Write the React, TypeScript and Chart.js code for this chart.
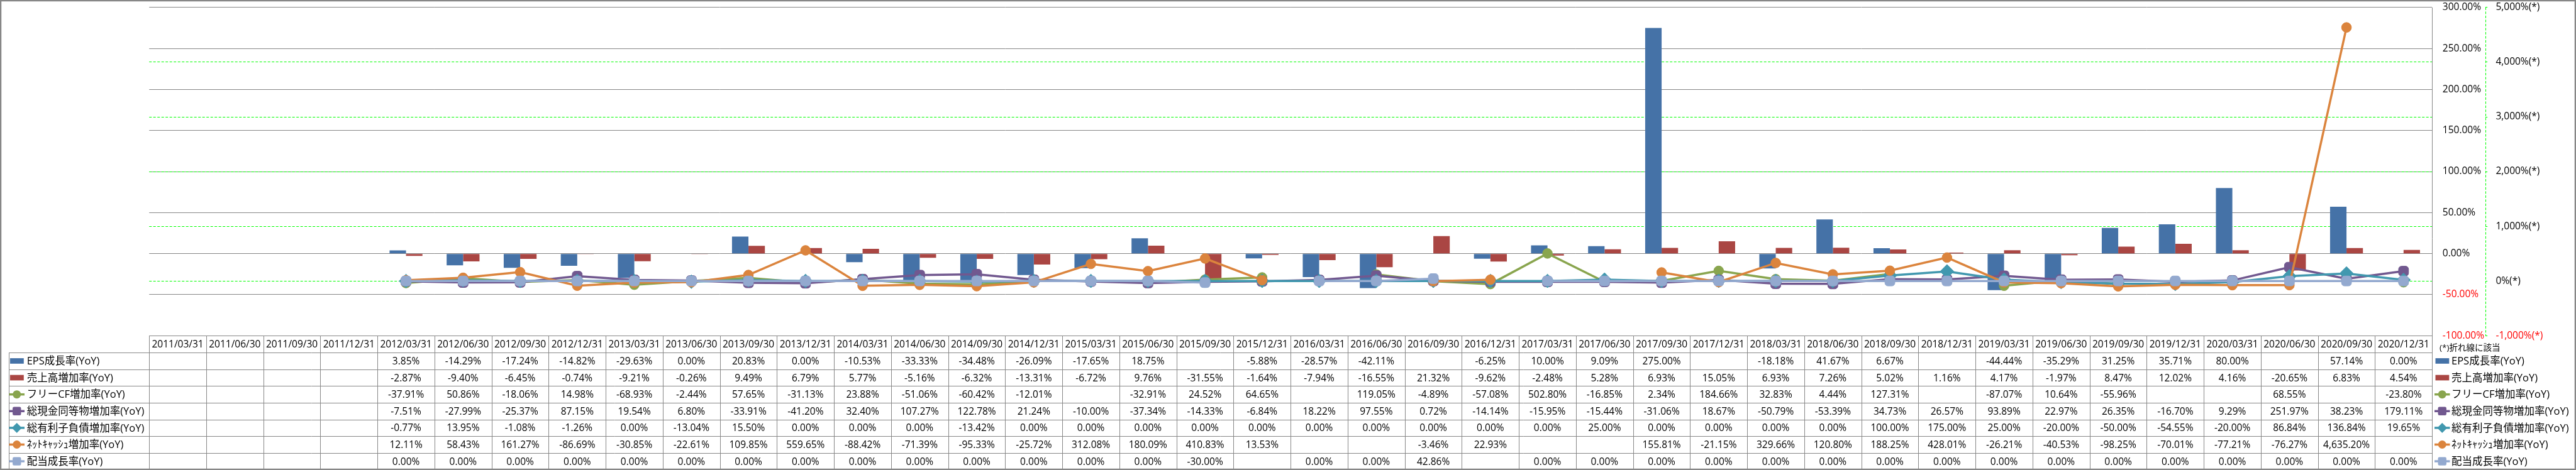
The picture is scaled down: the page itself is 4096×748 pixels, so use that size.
import React, { useEffect, useRef } from 'react';
import { Chart, registerables } from 'chart.js';

Chart.register(...registerables);

const categories = [
  '2011/03/31', '2011/06/30', '2011/09/30', '2011/12/31',
  '2012/03/31', '2012/06/30', '2012/09/30', '2012/12/31',
  '2013/03/31', '2013/06/30', '2013/09/30', '2013/12/31',
  '2014/03/31', '2014/06/30', '2014/09/30', '2014/12/31',
  '2015/03/31', '2015/06/30', '2015/09/30', '2015/12/31',
  '2016/03/31', '2016/06/30', '2016/09/30', '2016/12/31',
  '2017/03/31', '2017/06/30', '2017/09/30', '2017/12/31',
  '2018/03/31', '2018/06/30', '2018/09/30', '2018/12/31',
  '2019/03/31', '2019/06/30', '2019/09/30', '2019/12/31',
  '2020/03/31', '2020/06/30', '2020/09/30', '2020/12/31',
];

const epsGrowth = [
  null, null, null, null,
  3.85, -14.29, -17.24, -14.82,
  -29.63, 0.0, 20.83, 0.0,
  -10.53, -33.33, -34.48, -26.09,
  -17.65, 18.75, null, -5.88,
  -28.57, -42.11, null, -6.25,
  10.0, 9.09, 275.0, null,
  -18.18, 41.67, 6.67, null,
  -44.44, -35.29, 31.25, 35.71,
  80.0, null, 57.14, 0.0,
];

const salesGrowth = [
  null, null, null, null,
  -2.87, -9.4, -6.45, -0.74,
  -9.21, -0.26, 9.49, 6.79,
  5.77, -5.16, -6.32, -13.31,
  -6.72, 9.76, -31.55, -1.64,
  -7.94, -16.55, 21.32, -9.62,
  -2.48, 5.28, 6.93, 15.05,
  6.93, 7.26, 5.02, 1.16,
  4.17, -1.97, 8.47, 12.02,
  4.16, -20.65, 6.83, 4.54,
];

const fcfGrowth = [
  null, null, null, null,
  -37.91, 50.86, -18.06, 14.98,
  -68.93, -2.44, 57.65, -31.13,
  23.88, -51.06, -60.42, -12.01,
  null, -32.91, 24.52, 64.65,
  null, 119.05, -4.89, -57.08,
  502.8, -16.85, 2.34, 184.66,
  32.83, 4.44, 127.31, null,
  -87.07, 10.64, -55.96, null,
  null, 68.55, null, -23.8,
];

const cashGrowth = [
  null, null, null, null,
  -7.51, -27.99, -25.37, 87.15,
  19.54, 6.8, -33.91, -41.2,
  32.4, 107.27, 122.78, 21.24,
  -10.0, -37.34, -14.33, -6.84,
  18.22, 97.55, 0.72, -14.14,
  -15.95, -15.44, -31.06, 18.67,
  -50.79, -53.39, 34.73, 26.57,
  93.89, 22.97, 26.35, -16.7,
  9.29, 251.97, 38.23, 179.11,
];

const debtGrowth = [
  null, null, null, null,
  -0.77, 13.95, -1.08, -1.26,
  0.0, -13.04, 15.5, 0.0,
  0.0, 0.0, -13.42, 0.0,
  0.0, 0.0, 0.0, 0.0,
  0.0, 0.0, 0.0, 0.0,
  0.0, 25.0, 0.0, 0.0,
  0.0, 0.0, 100.0, 175.0,
  25.0, -20.0, -50.0, -54.55,
  -20.0, 86.84, 136.84, 19.65,
];

const netCashGrowth = [
  null, null, null, null,
  12.11, 58.43, 161.27, -86.69,
  -30.85, -22.61, 109.85, 559.65,
  -88.42, -71.39, -95.33, -25.72,
  312.08, 180.09, 410.83, 13.53,
  null, null, -3.46, 22.93,
  null, null, 155.81, -21.15,
  329.66, 120.8, 188.25, 428.01,
  -26.21, -40.53, -98.25, -70.01,
  -77.21, -76.27, 4635.2, null,
];

const dividendGrowth = [
  null, null, null, null,
  0.0, 0.0, 0.0, 0.0,
  0.0, 0.0, 0.0, 0.0,
  0.0, 0.0, 0.0, 0.0,
  0.0, 0.0, -30.0, null,
  0.0, 0.0, 42.86, null,
  0.0, 0.0, 0.0, 0.0,
  0.0, 0.0, 0.0, 0.0,
  0.0, 0.0, 0.0, 0.0,
  0.0, 0.0, 0.0, 0.0,
];

const seriesNames = [
  'EPS成長率(YoY)',
  '売上高増加率(YoY)',
  'フリーCF増加率(YoY)',
  '総現金同等物増加率(YoY)',
  '総有利子負債増加率(YoY)',
  'ﾈｯﾄｷｬｯｼｭ増加率(YoY)',
  '配当成長率(YoY)',
];

const noteText = '(*)折れ線に該当';

const COLORS = ['#4572A7', '#AA4643', '#89A54E', '#71588F', '#4198AF', '#DB843D', '#93A9CF'];
const KINDS = ['bar', 'bar', 'circle', 'rectRounded', 'rectRot', 'circle', 'rectRounded'];
const GRAY = '#878787';
const GREEN = '#00FF00';
const FONT = '"Open Sans", "Noto Sans CJK JP", sans-serif';

const W = 4096;
const H = 748;

const fmtPct = (v: number | null) =>
  v === null || v === undefined
    ? ''
    : v.toLocaleString('en-US', { minimumFractionDigits: 2, maximumFractionDigits: 2 }) + '%';

function drawMarker(ctx: CanvasRenderingContext2D, kind: string, x: number, y: number, r: number, color: string) {
  ctx.fillStyle = color;
  ctx.beginPath();
  if (kind === 'circle') {
    ctx.arc(x, y, r, 0, Math.PI * 2);
  } else if (kind === 'rectRot') {
    ctx.moveTo(x, y - r);
    ctx.lineTo(x + r, y);
    ctx.lineTo(x, y + r);
    ctx.lineTo(x - r, y);
    ctx.closePath();
  } else {
    const h = r * 0.86;
    const c = r * 0.3;
    ctx.moveTo(x - h + c, y - h);
    ctx.lineTo(x + h - c, y - h);
    ctx.quadraticCurveTo(x + h, y - h, x + h, y - h + c);
    ctx.lineTo(x + h, y + h - c);
    ctx.quadraticCurveTo(x + h, y + h, x + h - c, y + h);
    ctx.lineTo(x - h + c, y + h);
    ctx.quadraticCurveTo(x - h, y + h, x - h, y + h - c);
    ctx.lineTo(x - h, y - h + c);
    ctx.quadraticCurveTo(x - h, y - h, x - h + c, y - h);
    ctx.closePath();
  }
  ctx.fill();
}

function drawKey(ctx: CanvasRenderingContext2D, i: number, x0: number, y: number) {
  const color = COLORS[i];
  const kind = KINDS[i];
  if (kind === 'bar') {
    ctx.fillStyle = color;
    ctx.fillRect(x0 + 1.5, y - 4.4, 21.8, 8.7);
  } else {
    ctx.strokeStyle = color;
    ctx.lineWidth = 3.5;
    ctx.beginPath();
    ctx.moveTo(x0, y);
    ctx.lineTo(x0 + 24.5, y);
    ctx.stroke();
    const r = kind === 'circle' ? 6.5 : kind === 'rectRot' ? 8 : 7.8;
    drawMarker(ctx, kind, x0 + 12.25, y, r, color);
  }
}

const tablePlugin = {
  id: 'excelDataTable',
  afterDraw(chart: any) {
    const ctx: CanvasRenderingContext2D = chart.ctx;
    const xs = chart.scales.x;
    const y2 = chart.scales.y2;
    const ca = chart.chartArea;
    const n = categories.length;
    const colW = xs.getPixelForValue(1) - xs.getPixelForValue(0);
    const top = ca.bottom;
    const headerH = 27;
    const rowH = 26.6;
    const rows = seriesNames.length;
    const bottom = top + headerH + rowH * rows;
    const labelLeft = 14;
    const px = (v: number) => Math.round(v) + 0.5;

    ctx.save();
    // green dashed secondary axis line
    ctx.strokeStyle = GREEN;
    ctx.lineWidth = 1;
    ctx.setLineDash([4, 2.5]);
    ctx.beginPath();
    ctx.moveTo(px(y2.left), y2.top);
    ctx.lineTo(px(y2.left), y2.bottom);
    ctx.stroke();
    ctx.setLineDash([]);

    // table grid
    ctx.strokeStyle = GRAY;
    ctx.lineWidth = 1;
    ctx.beginPath();
    ctx.moveTo(ca.left, px(top));
    ctx.lineTo(ca.right, px(top));
    for (let r = 0; r <= rows; r++) {
      const y = px(top + headerH + r * rowH);
      ctx.moveTo(labelLeft, y);
      ctx.lineTo(ca.right, y);
    }
    for (let i = 0; i < n; i++) {
      const x = px(xs.getPixelForValue(i) - colW / 2);
      ctx.moveTo(x, top);
      ctx.lineTo(x, bottom);
    }
    ctx.moveTo(px(ca.right), ca.top);
    ctx.lineTo(px(ca.right), bottom);
    ctx.moveTo(px(labelLeft), top + headerH);
    ctx.lineTo(px(labelLeft), bottom);
    ctx.stroke();

    // header text
    ctx.fillStyle = '#000';
    ctx.textAlign = 'center';
    ctx.textBaseline = 'middle';
    ctx.font = `15.5px ${FONT}`;
    for (let i = 0; i < n; i++) {
      ctx.fillText(categories[i], xs.getPixelForValue(i), top + headerH / 2 + 1);
    }
    const allSeries = [epsGrowth, salesGrowth, fcfGrowth, cashGrowth, debtGrowth, netCashGrowth, dividendGrowth];
    for (let r = 0; r < rows; r++) {
      const cy = top + headerH + (r + 0.5) * rowH + 1;
      for (let i = 0; i < n; i++) {
        const t = fmtPct(allSeries[r][i] as any);
        if (t) ctx.fillText(t, xs.getPixelForValue(i), cy);
      }
    }
    // row labels with keys
    ctx.textAlign = 'left';
    ctx.font = `16.5px ${FONT}`;
    for (let r = 0; r < rows; r++) {
      const cy = top + headerH + (r + 0.5) * rowH;
      drawKey(ctx, r, labelLeft + 0.5, cy);
      ctx.fillStyle = '#000';
      ctx.fillText(seriesNames[r], 42.7, cy + 1);
    }

    // right legend
    ctx.font = `13.5px ${FONT}`;
    ctx.fillStyle = '#000';
    ctx.fillText(noteText, 3879, top + 19.5);
    ctx.font = `16.5px ${FONT}`;
    for (let r = 0; r < rows; r++) {
      const cy = top + headerH + (r + 0.5) * rowH;
      drawKey(ctx, r, 3871, cy);
      ctx.fillStyle = '#000';
      ctx.fillText(seriesNames[r], 3898, cy + 1);
    }

    // outer border
    ctx.strokeStyle = GRAY;
    ctx.strokeRect(0.5, 0.5, W - 1, H - 1);
    ctx.restore();
  },
};

export default function App() {
  const ref = useRef<HTMLCanvasElement | null>(null);

  useEffect(() => {
    document.body.style.margin = '0';
    const canvas = ref.current;
    if (!canvas) return;
    Chart.defaults.font.family = FONT;
    const lineSet = (i: number, data: (number | null)[], radius: number, order: number) => ({
      type: 'line' as const,
      label: seriesNames[i],
      data,
      yAxisID: 'y2',
      borderColor: COLORS[i],
      backgroundColor: COLORS[i],
      borderWidth: 3.5,
      pointStyle: KINDS[i],
      pointRadius: radius,
      pointBorderWidth: 1,
      pointBorderColor: COLORS[i],
      pointBackgroundColor: COLORS[i],
      tension: 0,
      spanGaps: false,
      order,
    });
    const chart = new Chart(canvas, {
      type: 'bar',
      data: {
        labels: categories,
        datasets: [
          {
            type: 'bar',
            label: seriesNames[0],
            data: epsGrowth,
            yAxisID: 'y',
            backgroundColor: COLORS[0],
            borderWidth: 0,
            categoryPercentage: 0.576,
            barPercentage: 1,
            order: 20,
          },
          {
            type: 'bar',
            label: seriesNames[1],
            data: salesGrowth,
            yAxisID: 'y',
            backgroundColor: COLORS[1],
            borderWidth: 0,
            categoryPercentage: 0.576,
            barPercentage: 1,
            order: 20,
          },
          lineSet(2, fcfGrowth, 7.8, 7),
          lineSet(3, cashGrowth, 9.2, 6),
          lineSet(4, debtGrowth, 10.9, 5),
          lineSet(5, netCashGrowth, 7.8, 4),
          lineSet(6, dividendGrowth, 9.2, 3),
        ] as any,
      },
      options: {
        responsive: false,
        animation: false,
        devicePixelRatio: 1,
        layout: { padding: { left: 237.2, top: 11.6, bottom: 213.8, right: 0 } },
        plugins: { legend: { display: false }, tooltip: { enabled: false } },
        scales: {
          x: { display: false, offset: true },
          y: {
            position: 'right',
            weight: 1,
            min: -100,
            max: 300,
            ticks: {
              stepSize: 50,
              padding: 16.6,
              font: { size: 15.5, family: FONT },
              color: (c: any) => (c.tick && c.tick.value < 0 ? '#FF0000' : '#000000'),
              callback: (v: any) => Number(v).toFixed(2) + '%',
            },
            grid: { color: GRAY, lineWidth: 1, drawTicks: false },
            border: { display: false },
            afterFit: (s: any) => {
              s.width = 84.5;
              s.paddingTop = 0;
              s.paddingBottom = 0;
            },
          },
          y2: {
            position: 'right',
            weight: 2,
            min: -1000,
            max: 5000,
            ticks: {
              stepSize: 1000,
              padding: 13.2,
              font: { size: 15.5, family: FONT },
              color: (c: any) => (c.tick && c.tick.value < 0 ? '#FF0000' : '#000000'),
              callback: (v: any) => Number(v).toLocaleString('en-US') + '%(*)',
            },
            grid: {
              color: (c: any) =>
                c.tick && (c.tick.value === 5000 || c.tick.value === -1000) ? 'rgba(0,0,0,0)' : GREEN,
              lineWidth: 1,
              drawTicks: true,
              tickLength: 3.5,
              tickColor: GREEN,
            },
            border: { display: false, dash: [4, 2.5] },
            afterFit: (s: any) => {
              s.width = 144.3;
              s.paddingTop = 0;
              s.paddingBottom = 0;
            },
          },
        },
      } as any,
      plugins: [tablePlugin],
    });
    return () => chart.destroy();
  }, []);

  return (
    <div style={{ width: W, height: H, background: '#fff' }}>
      <canvas ref={ref} width={W} height={H} style={{ display: 'block', width: W, height: H }} />
    </div>
  );
}
